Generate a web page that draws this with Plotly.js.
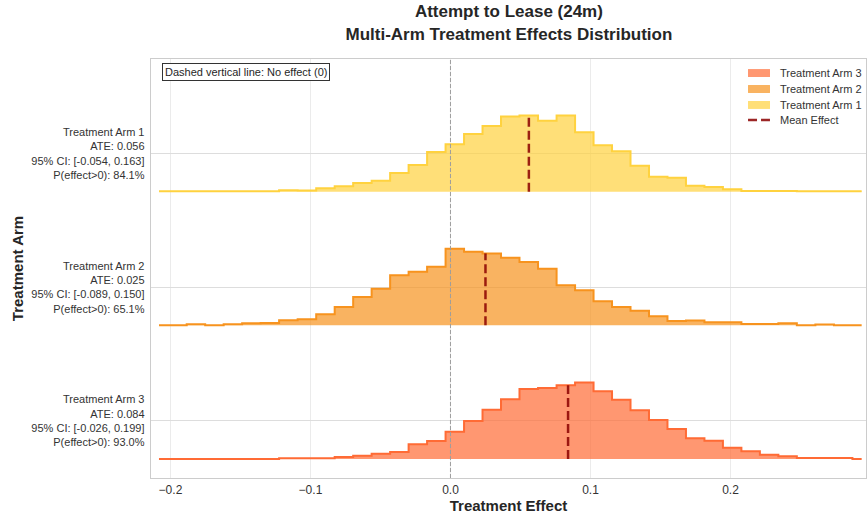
<!DOCTYPE html>
<html>
<head>
<meta charset="utf-8">
<script src="https://cdn.plot.ly/plotly-3.0.1.min.js"></script>
<style>
  html, body { margin: 0; padding: 0; background: #ffffff; }
  #chart { width: 867px; height: 514px; }
</style>
</head>
<body>
<div id="chart"></div>
<script>
// ---------------- data ----------------
const binCenters = [
  -0.2082, -0.1950, -0.1818, -0.1686, -0.1554, -0.1422, -0.1290, -0.1158, -0.1025, -0.0893,
  -0.0761, -0.0629, -0.0497, -0.0365, -0.0233, -0.0101, 0.0031, 0.0163, 0.0295, 0.0427,
  0.0559, 0.0692, 0.0824, 0.0956, 0.1088, 0.1220, 0.1352, 0.1484, 0.1616, 0.1748,
  0.1880, 0.2012, 0.2144, 0.2276, 0.2408, 0.2540, 0.2673, 0.2805, 0.2937
];
const armNames = ['Treatment Arm 1', 'Treatment Arm 2', 'Treatment Arm 3'];
const armBase = [2, 1, 0];
const ate = [0.056, 0.025, 0.084];
const ciLow = [-0.054, -0.089, -0.026];
const ciHigh = [0.163, 0.150, 0.199];
const pPositive = [84.1, 65.1, 93.0];
// relative density per bin
const densityArm1 = [0.3, 0.3, 0.3, 0.3, 0.3, 0.5, 0.5, 1.5, 1.2, 3.3,
  5.3, 8.7, 11, 18.7, 26.7, 39.7, 47.3, 57.7, 65.7, 75.3,
  76.3, 71, 76.3, 59.3, 46.3, 40.3, 26, 15, 14, 6,
  4.7, 2.3, 0.7, 0.7, 0.7, 0.3, 0.3, 0.3, 0.3];
const densityArm2 = [0, 0, 1, 0, 1, 2, 2.3, 5, 6, 11,
  18.3, 28.3, 36.7, 50, 53.7, 58.7, 76.7, 73.7, 72, 67.7,
  63.3, 56.7, 40, 35, 24, 18.3, 14.7, 9, 4.3, 4.7,
  3, 3, 1.3, 1.3, 2, 0, 0.7, 0, 0];
const densityArm3 = [0, 0, 0, 0, 0, 0, 0, 0.7, 0.7, 0.7,
  2, 3.3, 5.3, 7, 14.7, 18, 27.3, 38, 49.3, 59.7,
  70, 71, 73.7, 76.7, 67.7, 59.3, 48.7, 39, 30, 20.7,
  18.3, 11.3, 7.7, 4.3, 2.7, 1, 1, 1, 0];
const densities = [densityArm1, densityArm2, densityArm3];
const xTicks = [-0.2, -0.1, 0.0, 0.1, 0.2];
const noEffect = 0;
const legendLabels = ['Treatment Arm 3', 'Treatment Arm 2', 'Treatment Arm 1', 'Mean Effect'];

// ---------------- styles ----------------
const lineColors = ['#FFD23F', '#F7931E', '#FF6B35'];
const fillColors = ['rgba(255,210,63,0.7)', 'rgba(247,147,30,0.7)', 'rgba(255,107,53,0.7)'];
const meanColor = 'rgba(139,0,0,0.85)';
const heightScale = 1 / 133.8;
const labelOffset = 0.285;
const FONT = 'Liberation Sans, Arial, Helvetica, sans-serif';

const traces = [];
[2, 1, 0].forEach(k => {
  const base = armBase[k];
  traces.push({
    x: binCenters, y: binCenters.map(() => base),
    type: 'scatter', mode: 'lines', line: {width: 0, shape: 'hvh'},
    showlegend: false, hoverinfo: 'skip'
  });
  traces.push({
    x: binCenters, y: densities[k].map(v => base + v * heightScale),
    type: 'scatter', mode: 'lines', fill: 'tonexty',
    fillcolor: fillColors[k], line: {color: lineColors[k], width: 2, shape: 'hvh'},
    showlegend: false, name: armNames[k]
  });
});
// mean lines
[0, 1, 2].forEach(k => {
  let best = 0;
  binCenters.forEach((c, i) => { if (Math.abs(c - ate[k]) < Math.abs(binCenters[best] - ate[k])) best = i; });
  const base = armBase[k];
  traces.push({
    x: [ate[k], ate[k]], y: [base, base + densities[k][best] * heightScale],
    type: 'scatter', mode: 'lines',
    line: {color: meanColor, width: 2.5, dash: '9px,4px'},
    name: 'Mean Effect', showlegend: false
  });
});

const tickVals = armBase.map(b => b + labelOffset);
const tickText = armNames.map((n, k) =>
  n + '<br>ATE: ' + ate[k].toFixed(3) +
  '<br>95% CI: [' + ciLow[k].toFixed(3) + ', ' + ciHigh[k].toFixed(3) + ']' +
  '<br>P(effect>0): ' + pPositive[k].toFixed(1) + '%');

// ---- manual legend (paper coordinates) ----
const legX0 = 0.835, legX1 = 0.8657, legTextX = 0.8769;
const legRowY = [0.9665, 0.9284, 0.8903, 0.8544];
const legHalf = 0.0095;
const legendPatchColors = [fillColors[2], fillColors[1], fillColors[0]];
const shapes = [{
  type: 'line', xref: 'x', yref: 'paper', x0: noEffect, x1: noEffect, y0: 0, y1: 1,
  line: {color: '#9e9e9e', width: 1, dash: '4px,2px'}, layer: 'above'
}];
legendPatchColors.forEach((c, i) => {
  shapes.push({
    type: 'rect', xref: 'paper', yref: 'paper', x0: legX0, x1: legX1,
    y0: legRowY[i] - legHalf, y1: legRowY[i] + legHalf,
    fillcolor: c, line: {width: 0}, layer: 'above'
  });
});
shapes.push({
  type: 'line', xref: 'paper', yref: 'paper', x0: legX0, x1: legX1, y0: legRowY[3], y1: legRowY[3],
  line: {color: meanColor, width: 2.5, dash: '9px,4px'}, layer: 'above'
});
const annotations = [{
  xref: 'paper', yref: 'paper', x: 0.016, y: 0.99, xanchor: 'left', yanchor: 'top',
  text: 'Dashed vertical line: No effect (0)', showarrow: false,
  font: {family: FONT, size: 11, color: '#262626'},
  bordercolor: '#333333', borderwidth: 1, borderpad: 2, bgcolor: '#ffffff'
}];
legendLabels.forEach((t, i) => {
  annotations.push({
    xref: 'paper', yref: 'paper', x: legTextX, y: legRowY[i], xanchor: 'left', yanchor: 'middle',
    text: t, showarrow: false, font: {family: FONT, size: 11, color: '#333333'}
  });
});

const layout = {
  width: 867, height: 514,
  margin: {l: 151, r: 1, t: 59, b: 36},
  paper_bgcolor: '#ffffff', plot_bgcolor: '#ffffff',
  font: {family: FONT, color: '#262626'},
  showlegend: false,
  title: {
    text: '<b>Attempt to Lease (24m)</b><br><b>Multi-Arm Treatment Effects Distribution</b>',
    font: {family: FONT, size: 17, color: '#262626'},
    x: 0.587, xanchor: 'center', y: 0.966, yanchor: 'top', yref: 'container'
  },
  xaxis: {
    range: [-0.2139, 0.2968], tickvals: xTicks, ticktext: xTicks.map(v => v === 0 ? '0.0' : (v < 0 ? '\u2212' : '') + Math.abs(v).toFixed(1)),
    showgrid: true, gridcolor: '#ebebeb', gridwidth: 1, zeroline: false,
    showline: true, mirror: true, linecolor: '#cccccc', linewidth: 1.3,
    ticks: '', tickfont: {family: FONT, size: 12, color: '#333333'},
    title: {text: '<b>Treatment Effect</b>', font: {family: FONT, size: 15, color: '#262626'}, standoff: 4}
  },
  yaxis: {
    range: [-0.142, 2.992], tickvals: tickVals, ticktext: tickText,
    showgrid: true, gridcolor: '#dddddd', gridwidth: 1, zeroline: false,
    showline: true, mirror: true, linecolor: '#cccccc', linewidth: 1.3,
    ticks: '', ticklabelstandoff: 3, tickfont: {family: FONT, size: 11, color: '#333333'},
    title: {text: '<b>Treatment Arm</b>', font: {family: FONT, size: 15, color: '#262626'}, standoff: 4}
  },
  shapes: shapes,
  annotations: annotations
};

Plotly.newPlot('chart', traces, layout, {displayModeBar: false, staticPlot: true});
</script>
</body>
</html>
